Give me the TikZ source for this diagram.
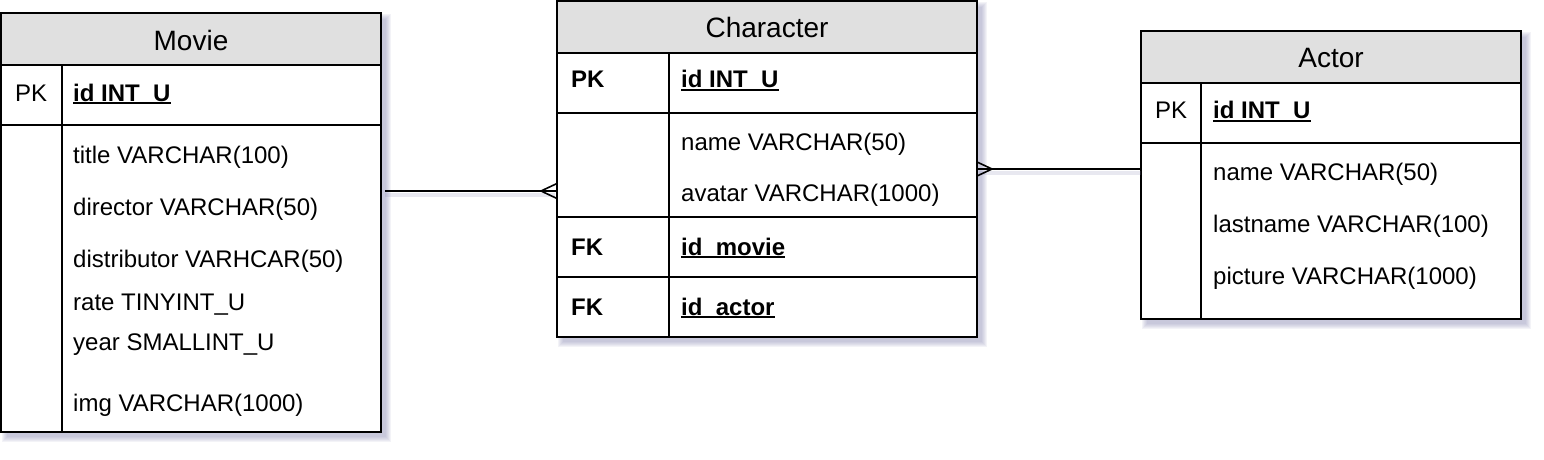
\documentclass[tikz,border=0pt]{standalone}
\usepackage{fontspec}
\setmainfont{Liberation Sans}
\usetikzlibrary{calc}
\definecolor{headgray}{RGB}{224,224,224}
\definecolor{shadowcol}{RGB}{140,140,180}
\newcommand\myul[1]{\setbox0\hbox{#1}\rlap{\rule[-3pt]{\wd0}{1.6pt}}\box0}
\newcommand\dshadow[4]{\foreach \i in {0,1,...,5}{\fill[shadowcol,opacity=0.1] ({#1+6-\i},{#2+6-\i}) rectangle ({#3+5+\i},{#4+5+\i});}}
\begin{document}
\begin{tikzpicture}[x=1pt,y=-1pt,
  tbl/.style={draw, line width=2pt, fill=white, inner sep=0pt, outer sep=0pt, anchor=north west},
  body/.style={font=\fontsize{24}{28}\selectfont, inner sep=0pt, anchor=base west},
  keyb/.style={font=\fontsize{24}{28}\selectfont\bfseries, inner sep=0pt, anchor=base west},
  head/.style={font=\fontsize{28}{32}\selectfont, inner sep=0pt, anchor=base},
  rule/.style={line width=2pt},
  conn/.style={line width=1.6pt},
  connshadow/.style={line width=4pt, shadowcol, opacity=0.2}]
\useasboundingbox (0,0) rectangle (1544,460);

% ---------- Movie ----------
\dshadow{1}{13}{381}{432}
\node[tbl, minimum width=380pt, minimum height=419pt] (movie) at (1,13) {};
\draw[rule, fill=headgray] (movie.north west) rectangle ($(movie.north east)+(0,52)$);
\draw[rule] (1,125) -- (381,125);
\draw[rule] (62,65) -- (62,432);
\node[head] (movieT) at (191,50.3) {Movie};
\node[body] (moviePK) at (15,101) {PK};
\node[keyb] (movieId) at (73,101) {\myul{id INT\_U}};
\node[body] (movieTitle) at (73,163) {title VARCHAR(100)};
\node[body] (movieDir) at (73,215) {director VARCHAR(50)};
\node[body] (movieDist) at (73,267) {distributor VARHCAR(50)};
\node[body] (movieRate) at (73,310) {rate TINYINT\_U};
\node[body] (movieYear) at (73,350) {year SMALLINT\_U};
\node[body] (movieImg) at (73,411) {img VARCHAR(1000)};

% ---------- Character ----------
\dshadow{557}{1}{977}{337}
\node[tbl, minimum width=420pt, minimum height=336pt] (character) at (557,1) {};
\draw[rule, fill=headgray] (character.north west) rectangle ($(character.north east)+(0,52)$);
\draw[rule] (557,113) -- (977,113);
\draw[rule] (557,217) -- (977,217);
\draw[rule] (557,277) -- (977,277);
\draw[rule] (669,53) -- (669,337);
\node[head] (charT) at (767,37.5) {Character};
\node[keyb] (charPK) at (571,87.5) {PK};
\node[keyb] (charId) at (681,87.5) {\myul{id INT\_U}};
\node[body] (charName) at (681,150) {name VARCHAR(50)};
\node[body] (charAvatar) at (681,201.7) {avatar VARCHAR(1000)};
\node[keyb] (charFK1) at (571,255) {FK};
\node[keyb] (charMovie) at (681,255) {\myul{id\_movie}};
\node[keyb] (charFK2) at (571,315) {FK};
\node[keyb] (charActor) at (681,315) {\myul{id\_actor}};

% ---------- Actor ----------
\dshadow{1141}{31}{1521}{319}
\node[tbl, minimum width=380pt, minimum height=288pt] (actor) at (1141,31) {};
\draw[rule, fill=headgray] (actor.north west) rectangle ($(actor.north east)+(0,52)$);
\draw[rule] (1141,143) -- (1521,143);
\draw[rule] (1201,83) -- (1201,319);
\node[head] (actorT) at (1331,67) {Actor};
\node[body] (actorPK) at (1155,118.5) {PK};
\node[keyb] (actorId) at (1213,118.5) {\myul{id INT\_U}};
\node[body] (actorName) at (1213,180.6) {name VARCHAR(50)};
\node[body] (actorLast) at (1213,232.6) {lastname VARCHAR(100)};
\node[body] (actorPic) at (1213,284.6) {picture VARCHAR(1000)};

% ---------- connectors ----------
\coordinate (mvR) at ($(movie.north east)+(4,178)$);
\coordinate (chL) at (character.west |- mvR);
\coordinate (chR) at ($(character.north east)+(0,168)$);
\coordinate (acL) at (actor.west |- chR);
\draw[connshadow] ($(mvR)+(0,4)$) -- ($(chL)+(-2,4)$);
\draw[connshadow] ($(chR)+(2,4)$) -- ($(acL)+(0,4)$);
\draw[conn] (mvR) -- (chL);
\draw[conn] ($(chL)+(-16,0)$) -- ($(chL)+(0,-7.5)$);
\draw[conn] ($(chL)+(-16,0)$) -- ($(chL)+(0,7.5)$);
\draw[conn] (chR) -- (acL);
\draw[conn] ($(chR)+(15,0)$) -- ($(chR)+(0,-7)$);
\draw[conn] ($(chR)+(15,0)$) -- ($(chR)+(0,7)$);
\end{tikzpicture}
\end{document}
